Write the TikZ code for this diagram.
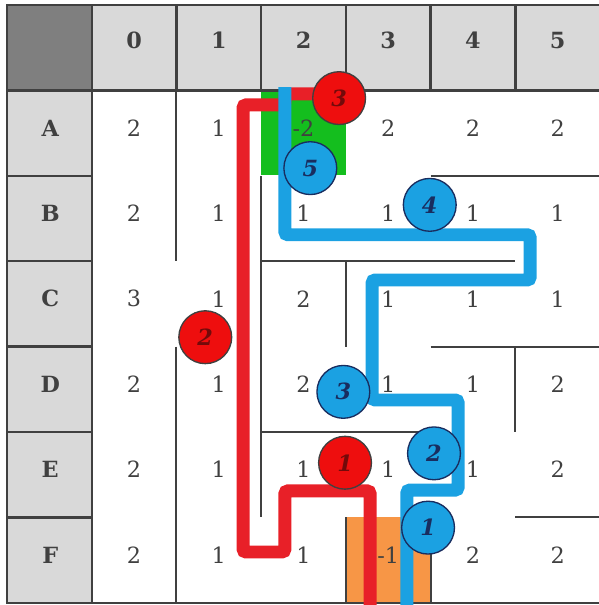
\documentclass[tikz,border=0pt]{standalone}
\usepackage{fontspec}
\setmainfont{DejaVu Serif}
\usepackage{tikz}
\definecolor{hdrgray}{RGB}{217, 217, 217}
\definecolor{cornergray}{RGB}{127, 127, 127}
\definecolor{wallgray}{RGB}{64, 64, 64}
\definecolor{textgray}{RGB}{64, 64, 64}
\definecolor{routered}{RGB}{232, 32, 40}
\definecolor{routeblue}{RGB}{27, 161, 226}
\definecolor{goalgreen}{RGB}{20, 190, 30}
\definecolor{startorange}{RGB}{247, 150, 70}
\definecolor{stopred}{RGB}{238, 14, 14}
\definecolor{darkred}{RGB}{115, 10, 10}
\definecolor{darknavy}{RGB}{25, 45, 95}

\begin{document}
\begin{tikzpicture}[x=2cm, y=-2.016cm,
    val/.style={text=textgray, font=\fontsize{15}{18}\selectfont},
    hdr/.style={text=textgray, font=\fontsize{15}{18}\selectfont\bfseries},
    frame/.style={wallgray, line width=1.6pt},
    wall/.style={wallgray, line width=1.3pt},
    route/.style={line width=8.7pt, rounded corners=2pt},
    redstop/.style={circle, draw=black!75, line width=0.9pt, fill=stopred,
        minimum size=35.5pt, inner sep=0pt, text=darkred,
        font=\fontsize{15}{18}\selectfont\bfseries\itshape},
    bluestop/.style={redstop, fill=routeblue, draw=darknavy, text=darknavy}]
    \useasboundingbox (-0.083,-0.059) rectangle (6.978,7.026);
    % HEADER CELLS
    \fill[cornergray] (0,0) rectangle (1,1);
    \fill[hdrgray] (1,0) rectangle (7,1);
    \fill[hdrgray] (0,1) rectangle (1,7);
    % Goal and start cells
    \fill[goalgreen] (3,1) rectangle (4,1.99);
    \fill[startorange] (4,6) rectangle (5,7);
    % Frame and header lines
    \draw[frame] (0,0) rectangle (7,7);
    \draw[frame] (1,0) -- (1,7) (0,1) -- (7,1);
    \draw[frame] (2,0) -- (2,1) (3,0) -- (3,1) (4,0) -- (4,1) (5,0) -- (5,1) (6,0) -- (6,1);
    \draw[frame] (0,2) -- (1,2) (0,3) -- (1,3) (0,4) -- (1,4) (0,5) -- (1,5) (0,6) -- (1,6);
    % MAZE WALLS
    \draw[wall] (2,1) -- (2,3) (2,4) -- (2,7);
    \draw[wall] (3,2) -- (3,6);
    \draw[wall] (4,3) -- (4,4) (4,6) -- (4,7) (5,6) -- (5,7);
    \draw[wall] (6,4) -- (6,5);
    \draw[wall] (5,2) -- (7,2) (3,3) -- (6,3) (5,4) -- (7,4);
    \draw[wall] (3,5) -- (5,5) (6,6) -- (7,6);
    % Column labels
    \node[hdr] (c0) at (1.5,0.41) {0}; \node[hdr] (c1) at (2.5,0.41) {1};
    \node[hdr] (c2) at (3.5,0.41) {2}; \node[hdr] (c3) at (4.5,0.41) {3};
    \node[hdr] (c4) at (5.5,0.41) {4}; \node[hdr] (c5) at (6.5,0.41) {5};
    % Row labels
    \node[hdr] (rA) at (0.51,1.44) {A}; \node[hdr] (rB) at (0.51,2.44) {B};
    \node[hdr] (rC) at (0.51,3.44) {C}; \node[hdr] (rD) at (0.51,4.44) {D};
    \node[hdr] (rE) at (0.51,5.44) {E}; \node[hdr] (rF) at (0.51,6.44) {F};
    % Cell values
    \node[val] (A0) at (1.5,1.44) {2}; \node[val] (A1) at (2.5,1.44) {1}; \node[val] (A2) at (3.5,1.44) {-2};
    \node[val] (A3) at (4.5,1.44) {2}; \node[val] (A4) at (5.5,1.44) {2}; \node[val] (A5) at (6.5,1.44) {2};
    \node[val] (B0) at (1.5,2.44) {2}; \node[val] (B1) at (2.5,2.44) {1}; \node[val] (B2) at (3.5,2.44) {1};
    \node[val] (B3) at (4.5,2.44) {1}; \node[val] (B4) at (5.5,2.44) {1}; \node[val] (B5) at (6.5,2.44) {1};
    \node[val] (C0) at (1.5,3.44) {3}; \node[val] (C1) at (2.5,3.44) {1}; \node[val] (C2) at (3.5,3.44) {2};
    \node[val] (C3) at (4.5,3.44) {1}; \node[val] (C4) at (5.5,3.44) {1}; \node[val] (C5) at (6.5,3.44) {1};
    \node[val] (D0) at (1.5,4.44) {2}; \node[val] (D1) at (2.5,4.44) {1}; \node[val] (D2) at (3.5,4.44) {2};
    \node[val] (D3) at (4.5,4.44) {1}; \node[val] (D4) at (5.5,4.44) {1}; \node[val] (D5) at (6.5,4.44) {2};
    \node[val] (E0) at (1.5,5.44) {2}; \node[val] (E1) at (2.5,5.44) {1}; \node[val] (E2) at (3.5,5.44) {1};
    \node[val] (E3) at (4.5,5.44) {1}; \node[val] (E4) at (5.5,5.44) {1}; \node[val] (E5) at (6.5,5.44) {2};
    \node[val] (F0) at (1.5,6.44) {2}; \node[val] (F1) at (2.5,6.44) {1}; \node[val] (F2) at (3.5,6.44) {1};
    \node[val] (F3) at (4.5,6.44) {-1}; \node[val] (F4) at (5.5,6.44) {2}; \node[val] (F5) at (6.5,6.44) {2};
    % RED ROUTE
    \draw[route, routered] (4.286,7.03) -- (4.286,5.69) -- (3.28,5.69) -- (3.28,6.405)
        -- (2.786,6.405) -- (2.786,1.17) -- (3.28,1.17) -- (3.28,1.04) -- (3.92,1.04);
    % BLUE ROUTE
    \draw[route, routeblue] (4.72,7.03) -- (4.72,5.68) -- (5.325,5.68) -- (5.325,4.625)
        -- (4.31,4.625) -- (4.31,3.22) -- (6.175,3.22) -- (6.175,2.69) -- (3.28,2.69) -- (3.28,0.96);
    % Red stops
    \node[redstop] (r1) at (3.99,5.36) {1};
    \node[redstop] (r2) at (2.34,3.89) {2};
    \node[redstop] (r3) at (3.92,1.09) {3};
    % Blue stops
    \node[bluestop] (b1) at (4.97,6.12) {1};
    \node[bluestop] (b2) at (5.04,5.25) {2};
    \node[bluestop] (b3) at (3.97,4.53) {3};
    \node[bluestop] (b4) at (4.99,2.34) {4};
    \node[bluestop] (b5) at (3.58,1.91) {5};
\end{tikzpicture}
\end{document}
